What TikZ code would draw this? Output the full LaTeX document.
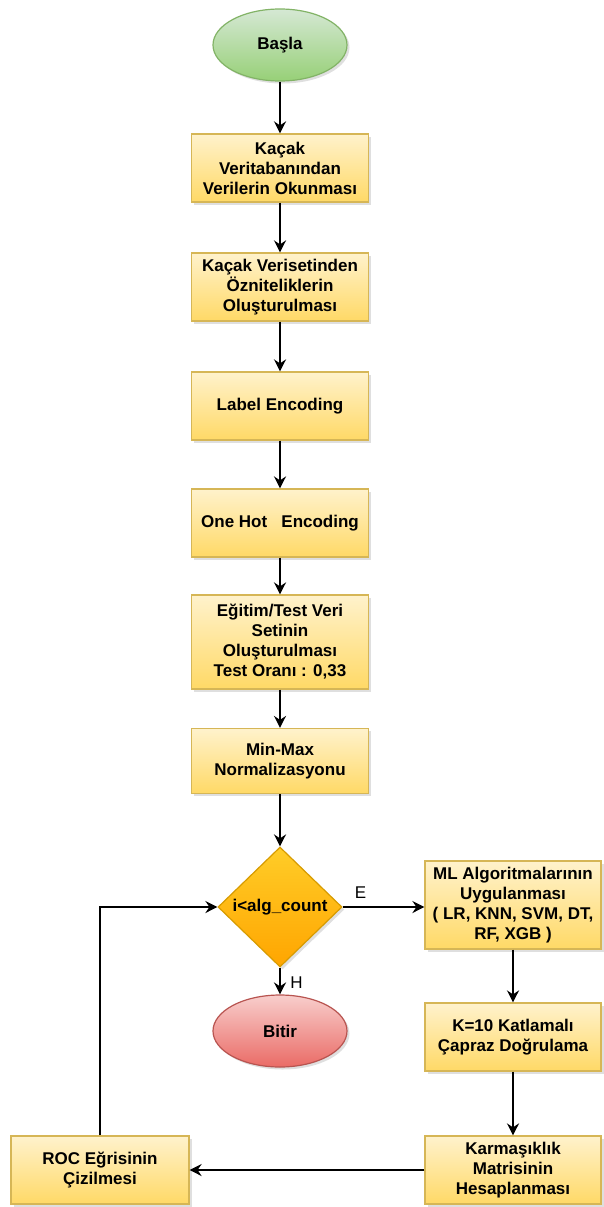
\documentclass[tikz,border=0pt]{standalone}
\usepackage{fontspec}
\setmainfont{Liberation Sans}
\usepackage{xcolor}
\usetikzlibrary{shapes, shapes.geometric, arrows.meta, positioning, shadows}

\definecolor{boxtop}{HTML}{FFF2CC}
\definecolor{boxbot}{HTML}{FFD966}
\definecolor{boxline}{HTML}{D6B656}
\definecolor{gotop}{HTML}{D5E8D4}
\definecolor{gobot}{HTML}{97D077}
\definecolor{goline}{HTML}{82B366}
\definecolor{endtop}{HTML}{F8CECC}
\definecolor{endbot}{HTML}{EA6B66}
\definecolor{endline}{HTML}{B85450}
\definecolor{dectop}{HTML}{FFCD28}
\definecolor{decbot}{HTML}{FFA500}
\definecolor{decline}{HTML}{D79B00}

\begin{document}
\begin{tikzpicture}[
        x=1pt, y=1pt,
        node distance=119pt,
        font=\fontsize{17}{20}\selectfont\bfseries,
        shade/.style={drop shadow={shadow xshift=2.5pt, shadow yshift=-2.5pt, opacity=0.25}},
        startstop/.style={ellipse, minimum width=134pt, minimum height=72pt, inner sep=0pt, text centered, line width=1.2pt, shade},
        begin/.style={startstop, draw=goline, top color=gotop, bottom color=gobot},
        finish/.style={startstop, draw=endline, top color=endtop, bottom color=endbot},
        process/.style={rectangle, minimum width=177pt, minimum height=68pt, inner sep=2pt, align=center, line width=1.2pt, draw=boxline, top color=boxtop, bottom color=boxbot, shade},
        decision/.style={diamond, minimum width=124pt, minimum height=120pt, inner sep=0pt, text centered, line width=1.2pt, draw=decline, top color=dectop, bottom color=decbot, shade},
        arrow/.style={line width=2.2pt, -{Stealth[length=12pt, width=12pt, inset=4pt]}}
        ]
        \useasboundingbox (0,0) rectangle (603,-1207);

        \node (start) [begin] at (280,-45) {Başla};
        \node (read) [process, below of=start, yshift=-4pt] {Kaçak\\Veritabanından\\Verilerin Okunması};
        \node (feature) [process, below of=read] {Kaçak Verisetinden\\Özniteliklerin\\Oluşturulması};
        \node (label) [process, below of=feature] {Label Encoding};
        \node (onehot) [process, below of=label, yshift=2pt] {One Hot\ \ \ Encoding};
        \node (split) [process, below of=onehot, minimum height=94pt] {Eğitim/Test Veri\\Setinin\\Oluşturulması\\Test Oranı : 0,33};
        \node (norm) [process, below of=split, minimum height=65pt] {Min-Max\\Normalizasyonu};
        \node (decide) [decision, below of=norm, yshift=-27pt] {i<alg\_count};
        \node (stop) [finish, below of=decide, yshift=-5pt] {Bitir};
        \node (model) [process, right of=decide, xshift=114pt, yshift=2pt, minimum width=176pt, minimum height=88pt] {ML Algoritmalarının\\Uygulanması\\( LR, KNN, SVM, DT,\\RF, XGB )};
        \node (kfold) [process, below of=model, yshift=-13pt, minimum width=176pt] {K=10 Katlamalı\\Çapraz Doğrulama};
        \node (conf) [process, below of=kfold, yshift=-14pt, minimum width=176pt] {Karmaşıklık\\Matrisinin\\Hesaplanması};
        \node (roc) [process, left of=conf, xshift=-294pt, minimum width=178pt] {ROC Eğrisinin\\Çizilmesi};

        \draw [arrow] (start) -- (read);
        \draw [arrow] (read) -- (feature);
        \draw [arrow] (feature) -- (label);
        \draw [arrow] (label) -- (onehot);
        \draw [arrow] (onehot) -- (split);
        \draw [arrow] (split) -- (norm);
        \draw [arrow] (norm) -- (decide);
        \draw [arrow] (decide.east) -- node[pos=0.22, above, yshift=4pt] {\normalfont\fontsize{17}{20}\selectfont E} (decide.east -| model.west);
        \draw [arrow] (decide) -- node[right, xshift=6pt, yshift=-2pt] {\normalfont\fontsize{17}{20}\selectfont H} (stop);
        \draw [arrow] (model) -- (kfold);
        \draw [arrow] (kfold) -- (conf);
        \draw [arrow] (conf) -- (roc);
        \draw [arrow] (roc.north) |- (decide.west);

    \end{tikzpicture}
\end{document}
